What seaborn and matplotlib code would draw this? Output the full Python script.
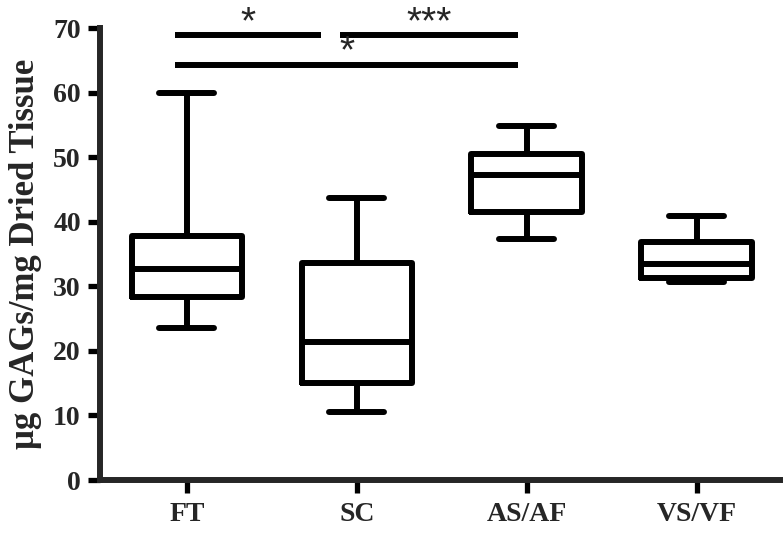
import numpy as np
import pandas as pd
import matplotlib
matplotlib.use("Agg")
import matplotlib.pyplot as plt
import seaborn as sns

# Groups and five-number summaries (min, Q1, median, Q3, max)
groups = ["FT", "SC", "AS/AF", "VS/VF"]
ft = [23.6, 28.4, 32.7, 37.8, 60.0]
sc = [10.6, 15.0, 21.4, 33.6, 43.6]
as_af = [37.4, 41.5, 47.2, 50.5, 54.8]
vs_vf = [30.6, 31.3, 33.4, 36.8, 40.9]

# significance bars: (start group, end group, height, label)
sig_bars = [(0, 1, 68.9, "*"), (1, 2, 68.9, "***"), (0, 2, 64.3, "*")]

df = pd.DataFrame({
    "group": np.repeat(groups, 5),
    "value": ft + sc + as_af + vs_vf,
})

sns.set_style("ticks")
plt.rcParams["font.family"] = ["Liberation Serif", "DejaVu Serif"]

fig = plt.figure(figsize=(7.83, 5.33), dpi=100)
ax = fig.add_axes([0.128, 0.0994, 0.868, 0.848])

lw = 4.3
sns.boxplot(data=df, x="group", y="value", order=groups, whis=(0, 100),
            width=0.65, fill=False, color="black", linewidth=lw, ax=ax)

# significance annotations
for a, b, h, lab in sig_bars:
    x0 = a - 0.07 if a == 0 else a - 0.1
    x1 = b - 0.21 if (b == 1) else b - 0.05
    ax.plot([x0, x1], [h, h], color="black", lw=lw, solid_capstyle="butt",
            clip_on=False)
    ax.text((x0 + x1) / 2, h - 0.9, lab, ha="center", va="bottom",
            fontsize=28, family="Liberation Sans", clip_on=False)

ax.set_xlim(-0.51, 3.49)
ax.set_ylim(0, 70)
ax.set_yticks(range(0, 71, 10))
ax.set_xlabel("")
ax.set_ylabel("μg GAGs/mg Dried Tissue", fontsize=25, fontweight="bold",
              labelpad=8)
for lab in ax.get_xticklabels() + ax.get_yticklabels():
    lab.set_fontweight("bold")
    lab.set_fontsize(20)
ax.tick_params(axis="both", width=3.8, length=9, color="black", pad=5)
ax.tick_params(axis="x", pad=7)
for s in ["left", "bottom"]:
    ax.spines[s].set_linewidth(4.3)
sns.despine(ax=ax)

fig.savefig("out.png", dpi=100)
